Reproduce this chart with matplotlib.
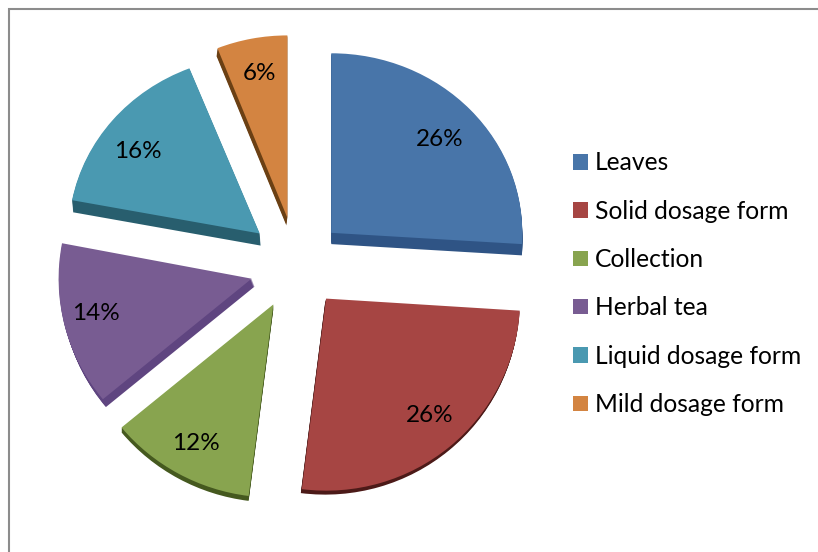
import matplotlib
matplotlib.use("Agg")
import matplotlib.pyplot as plt
from matplotlib.patches import Patch, Wedge, Rectangle
from matplotlib.transforms import Affine2D

plt.rcParams['font.family'] = ['Lato', 'DejaVu Sans']

W, H = 818, 552

categories = ["Leaves", "Solid dosage form", "Collection", "Herbal tea",
              "Liquid dosage form", "Mild dosage form"]
values = [26, 26, 12, 14, 16, 6]

colors = ["#4875A9", "#A64543", "#88A44F", "#785C92", "#4A99B1", "#D38441"]
wall_colors = ["#2F5485", "#4C1A18", "#45591F", "#5F4580", "#285E6E", "#6B4014"]

# pie() takes explode in data units, here pixels
explode = [47, 41, 45, 51, 51, 46]
radii = [191, 194, 197, 193, 191, 190]
# the pie is tilted a bit, back slices look flatter
squash = [0.94, 0.99, 0.98, 0.98, 0.93, 0.96]
# small corrections of the slice position, pixels
nudge = [(-3, 3), (0, 1), (-5, 3), (1, 2), (-1, 2), (-4, 5)]
# wall offset of each slice, pixels
depth = [(0, 12), (-1, 4), (0, 5), (3, 8), (1, 13), (-1, 8)]
label_pos = [(440, 140), (430, 415), (196, 443), (96, 313), (138, 151), (259, 74)]

fig = plt.figure(figsize=(W / 100, H / 100), dpi=100)
ax = fig.add_axes([0, 0, 1, 1])

wedges, _ = ax.pie(values, colors=colors, explode=explode, startangle=90,
                   counterclock=False, radius=191, center=(300, H - 268),
                   frame=True, wedgeprops=dict(linewidth=0, zorder=3))
ax.set_xlim(0, W)
ax.set_ylim(0, H)
ax.set_aspect('auto')
ax.axis('off')

for w, r, s, n, d, wc in zip(wedges, radii, squash, nudge, depth, wall_colors):
    cx = w.center[0] + n[0]
    cy = w.center[1] + n[1]
    w.set_center((cx, cy))
    w.set_radius(r)
    tr = Affine2D().translate(0, -cy).scale(1, s).translate(0, cy) + ax.transData
    w.set_transform(tr)
    # extruded side of the slice
    steps = max(abs(d[0]), abs(d[1]))
    for k in range(1, steps + 1):
        t = k / steps
        ax.add_patch(Wedge((cx + d[0] * t, cy - d[1] * t), r, w.theta1, w.theta2,
                           color=wc, lw=0, zorder=2, transform=tr))

for v, (x, y) in zip(values, label_pos):
    ax.text(x, H - y, f"{v}%", fontsize=17.5, ha='center', va='center', color='black', zorder=5)

# chart border, runs off the right and bottom of the picture
ax.add_patch(Rectangle((9, -10), W + 20, H - 9 + 10, fill=False, ec='#8C8C8C', lw=1.5, zorder=1))

handles = [Patch(color=c, lw=0) for c in colors]
ax.legend(handles, categories, loc='upper left', bbox_to_anchor=(566 / W, 1 - 144 / H),
          frameon=False, fontsize=17.7, handlelength=0.6, handleheight=0.6,
          handletextpad=0.28, labelspacing=1.03, borderpad=0.3, borderaxespad=0)

fig.savefig("out.png", dpi=100)
